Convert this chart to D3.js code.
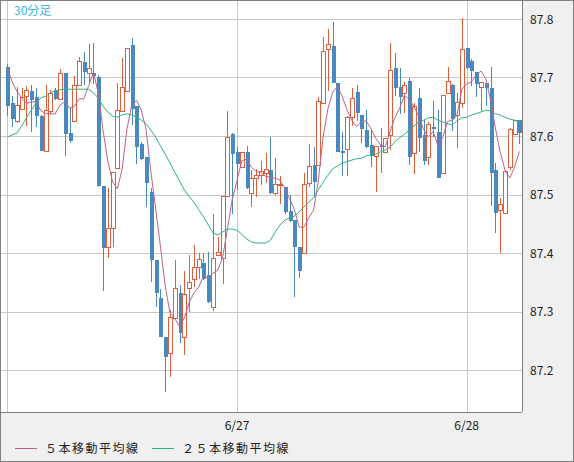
<!DOCTYPE html>
<html><head><meta charset="utf-8">
<script src="https://cdn.jsdelivr.net/npm/d3@7/dist/d3.min.js"></script>
<style>body{margin:0;background:#f0f0f0}svg{display:block}</style>
</head><body><svg id="c" width="574" height="462"></svg>
<script>
const opens=[87.718,87.656,87.626,87.646,87.668,87.677,87.667,87.634,87.574,87.643,87.679,87.663,87.708,87.605,87.626,87.687,87.726,87.708,87.708,87.701,87.515,87.410,87.443,87.545,87.643,87.677,87.756,87.651,87.586,87.564,87.504,87.388,87.323,87.256,87.229,87.289,87.332,87.256,87.340,87.356,87.376,87.383,87.362,87.308,87.397,87.391,87.497,87.603,87.573,87.547,87.573,87.503,87.528,87.533,87.537,87.542,87.503,87.516,87.513,87.472,87.456,87.410,87.400,87.520,87.550,87.550,87.656,87.749,87.754,87.691,87.574,87.578,87.632,87.675,87.636,87.610,87.585,87.566,87.585,87.573,87.602,87.716,87.684,87.674,87.694,87.571,87.665,87.602,87.564,87.615,87.607,87.537,87.674,87.687,87.636,87.656,87.750,87.728,87.709,87.684,87.691,87.682,87.542,87.473,87.468,87.547,87.603,87.627];
const highs=[87.723,87.668,87.684,87.682,87.685,87.687,87.682,87.636,87.687,87.679,87.682,87.715,87.708,87.648,87.703,87.735,87.744,87.757,87.759,87.704,87.515,87.511,87.538,87.691,87.733,87.750,87.768,87.651,87.590,87.564,87.511,87.388,87.338,87.256,87.303,87.388,87.345,87.369,87.397,87.414,87.400,87.400,87.402,87.467,87.427,87.497,87.643,87.605,87.581,87.573,87.583,87.542,87.544,87.557,87.571,87.598,87.562,87.532,87.513,87.499,87.456,87.410,87.537,87.586,87.581,87.667,87.769,87.783,87.795,87.691,87.607,87.634,87.682,87.687,87.636,87.644,87.610,87.583,87.614,87.597,87.759,87.742,87.716,87.692,87.699,87.656,87.682,87.627,87.624,87.660,87.644,87.670,87.718,87.689,87.674,87.802,87.750,87.732,87.709,87.692,87.691,87.718,87.554,87.494,87.540,87.614,87.627,87.627];
const lows=[87.634,87.615,87.622,87.644,87.617,87.607,87.615,87.574,87.573,87.638,87.662,87.662,87.566,87.588,87.626,87.685,87.687,87.691,87.689,87.513,87.335,87.391,87.410,87.544,87.643,87.677,87.619,87.552,87.559,87.479,87.350,87.308,87.256,87.162,87.188,87.287,87.246,87.226,87.299,87.342,87.356,87.354,87.315,87.301,87.397,87.347,87.497,87.467,87.508,87.547,87.509,87.479,87.496,87.516,87.520,87.501,87.499,87.484,87.467,87.453,87.325,87.357,87.400,87.513,87.496,87.550,87.656,87.677,87.691,87.573,87.532,87.532,87.617,87.626,87.588,87.579,87.547,87.504,87.537,87.571,87.576,87.668,87.638,87.639,87.550,87.535,87.573,87.550,87.550,87.598,87.528,87.537,87.674,87.609,87.579,87.648,87.715,87.685,87.667,87.643,87.651,87.480,87.434,87.400,87.468,87.542,87.602,87.586];
const closes=[87.651,87.629,87.653,87.667,87.679,87.662,87.634,87.574,87.644,87.674,87.663,87.708,87.603,87.591,87.687,87.728,87.709,87.716,87.703,87.515,87.409,87.443,87.538,87.644,87.684,87.750,87.646,87.581,87.561,87.520,87.388,87.332,87.256,87.221,87.291,87.340,87.263,87.330,87.350,87.376,87.390,87.356,87.315,87.391,87.402,87.497,87.598,87.569,87.552,87.573,87.511,87.528,87.533,87.540,87.544,87.503,87.518,87.518,87.470,87.455,87.409,87.369,87.518,87.549,87.521,87.660,87.745,87.757,87.691,87.573,87.571,87.632,87.665,87.639,87.612,87.581,87.566,87.583,87.581,87.597,87.713,87.682,87.667,87.687,87.564,87.651,87.597,87.557,87.621,87.612,87.528,87.670,87.694,87.629,87.658,87.749,87.715,87.711,87.689,87.692,87.682,87.537,87.468,87.484,87.540,87.612,87.627,87.605];
const prevCloses=[87.745,87.735,87.725,87.724];
const ma25=[87.598,87.602,87.605,87.617,87.631,87.644,87.656,87.665,87.668,87.674,87.677,87.679,87.680,87.680,87.680,87.680,87.680,87.680,87.674,87.665,87.651,87.641,87.634,87.632,87.636,87.638,87.636,87.632,87.627,87.621,87.610,87.598,87.583,87.569,87.554,87.538,87.523,87.508,87.497,87.487,87.474,87.462,87.448,87.434,87.431,87.436,87.441,87.441,87.439,87.432,87.424,87.419,87.417,87.417,87.417,87.422,87.436,87.448,87.456,87.460,87.463,87.470,87.479,87.487,87.494,87.508,87.521,87.533,87.544,87.549,87.554,87.556,87.559,87.561,87.562,87.566,87.568,87.569,87.573,87.576,87.581,87.590,87.597,87.603,87.610,87.617,87.624,87.627,87.631,87.632,87.627,87.624,87.621,87.619,87.626,87.631,87.632,87.636,87.638,87.641,87.644,87.643,87.638,87.636,87.632,87.629,87.627,87.624];
const yTicks=[87.2,87.3,87.4,87.5,87.6,87.7,87.8];
const dayStarts=[0,48,96];
const dayLabels=["6/26","6/27","6/28"];
const legendLabels=["５本移動平均線","２５本移動平均線"];

const svg=d3.select("#c");
const W=574,H=462,PR=522,PB=412;
const x=d3.scaleLinear().domain([0,closes.length-1]).range([7.3,519.3]);
const y=d3.scaleLinear().domain([87.2,87.8]).range([370,19]);
const font="'Noto Sans CJK JP','DejaVu Sans',sans-serif";

svg.append("rect").attr("width",W).attr("height",H).attr("fill","#f0f0f0");
svg.append("rect").attr("x",0).attr("y",0).attr("width",PR).attr("height",PB).attr("fill","#fff");
svg.append("defs").append("clipPath").attr("id","cp").append("rect").attr("x",0).attr("y",0).attr("width",PR).attr("height",PB);
const g=svg.append("g").attr("clip-path","url(#cp)");
g.selectAll(".hg").data(yTicks).join("line").attr("x1",0).attr("x2",PR).attr("y1",d=>Math.round(y(d))+.5).attr("y2",d=>Math.round(y(d))+.5).attr("stroke","#c8c8c8");
g.selectAll(".vg").data(dayStarts).join("line").attr("y1",0).attr("y2",PB).attr("x1",d=>Math.round(x(d))+.5).attr("x2",d=>Math.round(x(d))+.5).attr("stroke","#c8c8c8");

const idx=d3.range(closes.length);
const blue="#4a89c0",red="#dd5f3c";
const up=i=>closes[i]>=opens[i];
const cg=g.append("g").attr("shape-rendering","crispEdges");
cg.selectAll(".wk").data(idx).join("line")
 .attr("x1",i=>Math.round(x(i))+.5).attr("x2",i=>Math.round(x(i))+.5)
 .attr("y1",i=>Math.round(y(highs[i]))).attr("y2",i=>Math.round(y(lows[i])))
 .attr("stroke",i=>up(i)?red:blue).attr("stroke-width",1);
cg.selectAll(".bd").data(idx).join("rect")
 .attr("x",i=>up(i)?Math.round(x(i))-1.5:Math.round(x(i))-1.5)
 .attr("width",i=>up(i)?4:4)
 .attr("y",i=>Math.round(y(Math.max(opens[i],closes[i])))+(up(i)?.5:0))
 .attr("height",i=>Math.max(1,Math.round(Math.abs(y(opens[i])-y(closes[i])))))
 .attr("fill",i=>up(i)?"#fff":blue)
 .attr("stroke",i=>up(i)?red:"none").attr("stroke-width",1);

const all=prevCloses.concat(closes);
const ma5=idx.map(i=>d3.mean(all.slice(i,i+5)));
const line=d3.line().x((d,i)=>x(i)).y(d=>y(d));
g.append("path").attr("d",line(ma25)).attr("fill","none").attr("stroke","#2bb37a").attr("stroke-width",1);
g.append("path").attr("d",line(ma5)).attr("fill","none").attr("stroke","#b8648e").attr("stroke-width",1);

svg.append("line").attr("x1",0).attr("x2",PR).attr("y1",PB+.5).attr("y2",PB+.5).attr("stroke","#808080");
svg.append("line").attr("x1",PR+.5).attr("x2",PR+.5).attr("y1",0).attr("y2",PB).attr("stroke","#808080");
svg.append("rect").attr("x",.5).attr("y",.5).attr("width",W-1).attr("height",H-1).attr("fill","none").attr("stroke","#808080");

svg.selectAll(".yl").data(yTicks).join("text").attr("x",530).attr("y",d=>y(d)+4.5)
 .text(d=>d.toFixed(1)).attr("font-family",font).attr("font-size",12).attr("fill","#222");
svg.selectAll(".xl").data(dayStarts.slice(1)).join("text").attr("x",d=>x(d)).attr("y",430)
 .attr("text-anchor","middle").text((d,i)=>dayLabels[i+1]).attr("font-family",font).attr("font-size",12).attr("fill","#222");

svg.append("text").attr("x",14).attr("y",15).text("30分足").attr("font-family",font).attr("font-size",12).attr("fill","#3fb4ee");

const lc=["#b8648e","#2bb37a"], lx=[15,152];
legendLabels.forEach((t,i)=>{
  svg.append("line").attr("x1",lx[i]).attr("x2",lx[i]+22).attr("y1",448.5).attr("y2",448.5).attr("stroke",lc[i]);
  svg.append("text").attr("x",lx[i]+30).attr("y",453).text(t).attr("font-family",font).attr("font-size",12).attr("fill","#222").attr("letter-spacing",1.5);
});
</script></body></html>
